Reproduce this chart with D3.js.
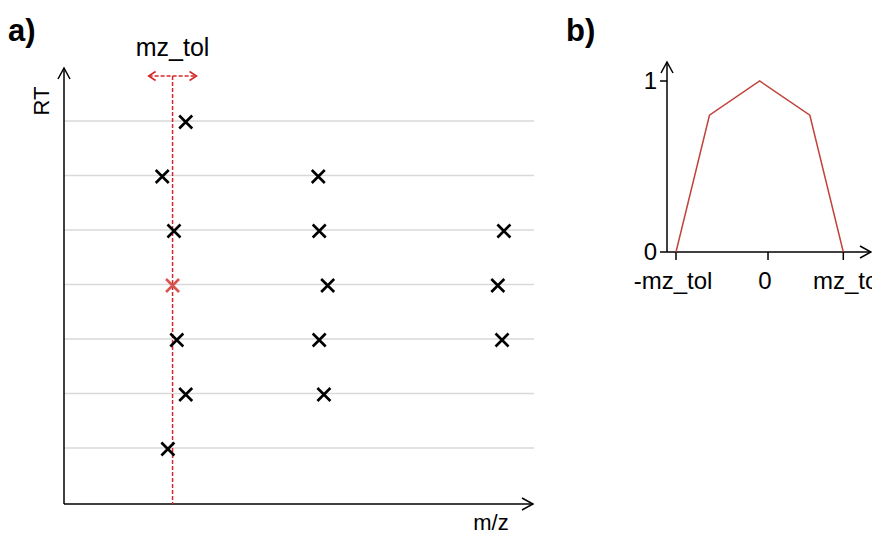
<!DOCTYPE html>
<html>
<head>
<meta charset="utf-8">
<script src="https://cdn.jsdelivr.net/npm/d3@7"></script>
<style>
  body { margin: 0; background: #fff; }
  text { font-family: "Liberation Sans", Arial, sans-serif; fill: #000; }
</style>
</head>
<body>
<script>
// panel a: peaks in the (m/z, RT) plane
var rtLevels = [1, 2, 3, 4, 5, 6, 7];
var peakMZ = [25.9, 20.9, 54.1, 23.4, 54.3, 93.6, 56.1, 92.3, 24.0, 54.3, 93.2, 25.9, 55.3, 22.1];
var peakRT = [7, 6, 6, 5, 5, 5, 4, 4, 3, 3, 3, 2, 2, 1];
// the reference peak (drawn in red)
var refMZ = 23.1;
var refRT = 4;
var mzTol = 5.1;

// panel b: weighting kernel
var kernelX = [-1, -0.6, 0, 0.6, 1];
var kernelY = [0, 0.8, 1, 0.8, 0];
var kernelTicks = [-1, 0.1, 1];
var kernelTickLabels = ["-mz_tol", "0", "mz_tol"];
var kernelYTicks = [0, 1];

var width = 872, height = 534;

var svg = d3.select("body").append("svg")
    .attr("width", width)
    .attr("height", height);

// simple open arrow head, tip at (x,y), pointing in direction dir
function arrowHead(g, x, y, dir, len, half, color) {
  var p;
  if (dir == "up") p = [[x - half, y + len], [x, y], [x + half, y + len]];
  if (dir == "right") p = [[x - len, y - half], [x, y], [x - len, y + half]];
  if (dir == "left") p = [[x + len, y - half], [x, y], [x + len, y + half]];
  g.append("path")
      .attr("d", d3.line()(p))
      .attr("fill", "none")
      .attr("stroke", color)
      .attr("stroke-width", 1.5);
}

// ---------- panel a ----------
var a = {left: 64, right: 534, bottom: 504, top: 68};

var x = d3.scaleLinear().domain([0, 100]).range([a.left, a.right]);
var y = d3.scaleLinear().domain([1, 7]).range([448, 121]);

var ga = svg.append("g");

// grid lines
ga.selectAll(".grid")
    .data(rtLevels)
    .enter().append("line")
    .attr("class", "grid")
    .attr("x1", a.left)
    .attr("x2", a.right)
    .attr("y1", function(d) { return y(d); })
    .attr("y2", function(d) { return y(d); })
    .attr("stroke", "#d9d9d9")
    .attr("stroke-width", 1.5);

// axes
ga.append("line")
    .attr("x1", a.left).attr("x2", a.left)
    .attr("y1", a.bottom).attr("y2", a.top)
    .attr("stroke", "#000").attr("stroke-width", 1.5);
arrowHead(ga, a.left, a.top, "up", 11, 6, "#000");
ga.append("line")
    .attr("x1", a.left).attr("x2", a.right - 1)
    .attr("y1", a.bottom).attr("y2", a.bottom)
    .attr("stroke", "#000").attr("stroke-width", 1.5);
arrowHead(ga, a.right - 1, a.bottom, "right", 11, 6, "#000");

ga.append("text")
    .attr("transform", "translate(49,101) rotate(-90)")
    .attr("text-anchor", "middle")
    .attr("font-size", "22px")
    .text("RT");

ga.append("text")
    .attr("x", 491)
    .attr("y", 530)
    .attr("text-anchor", "middle")
    .attr("font-size", "22px")
    .text("m/z");

// tolerance window: vertical dashed line + double arrow
var red = "#d62728";
ga.append("line")
    .attr("x1", x(refMZ)).attr("x2", x(refMZ))
    .attr("y1", 76).attr("y2", a.bottom)
    .attr("stroke", red).attr("stroke-width", 1.5)
    .attr("stroke-dasharray", "4,2");
ga.append("line")
    .attr("x1", x(refMZ - mzTol)).attr("x2", x(refMZ + mzTol))
    .attr("y1", 76).attr("y2", 76)
    .attr("stroke", red).attr("stroke-width", 1.5)
    .attr("stroke-dasharray", "4,2");
arrowHead(ga, x(refMZ - mzTol), 76, "left", 7, 4.5, red);
arrowHead(ga, x(refMZ + mzTol), 76, "right", 7, 4.5, red);
ga.append("text")
    .attr("x", x(refMZ))
    .attr("y", 56)
    .attr("text-anchor", "middle")
    .attr("font-size", "25px")
    .text("mz_tol");

// peaks
var cross = "M-6.5,-6.5L6.5,6.5M6.5,-6.5L-6.5,6.5";
ga.selectAll(".peak")
    .data(peakMZ)
    .enter().append("path")
    .attr("class", "peak")
    .attr("d", cross)
    .attr("transform", function(d, i) { return "translate(" + x(d) + "," + (y(peakRT[i]) + 1) + ")"; })
    .attr("stroke", "#000")
    .attr("stroke-width", 2.6)
    .attr("fill", "none");

ga.append("path")
    .attr("d", cross)
    .attr("transform", "translate(" + x(refMZ) + "," + (y(refRT) + 1) + ")")
    .attr("stroke", "#d9534f")
    .attr("stroke-width", 2.6)
    .attr("fill", "none");

ga.append("text")
    .attr("x", 8).attr("y", 41)
    .attr("font-size", "31px")
    .attr("font-weight", "bold")
    .text("a)");

// ---------- panel b ----------
var b = {left: 667, bottom: 252, top: 62, right: 871};
var kx = d3.scaleLinear().domain([-1, 1]).range([676, 843.3]);
var ky = d3.scaleLinear().domain([0, 1]).range([b.bottom, 81]);

var gb = svg.append("g");

gb.append("line")
    .attr("x1", b.left).attr("x2", b.left)
    .attr("y1", b.bottom).attr("y2", b.top)
    .attr("stroke", "#000").attr("stroke-width", 1.5);
arrowHead(gb, b.left, b.top, "up", 11, 6, "#000");
gb.append("line")
    .attr("x1", b.left).attr("x2", b.right)
    .attr("y1", b.bottom).attr("y2", b.bottom)
    .attr("stroke", "#000").attr("stroke-width", 1.5);
arrowHead(gb, b.right, b.bottom, "right", 11, 6, "#000");

// y ticks
gb.selectAll(".ytick")
    .data(kernelYTicks)
    .enter().append("line")
    .attr("class", "ytick")
    .attr("x1", b.left - 7).attr("x2", b.left)
    .attr("y1", function(d) { return ky(d); })
    .attr("y2", function(d) { return ky(d); })
    .attr("stroke", "#000").attr("stroke-width", 1.5);
gb.selectAll(".ylab")
    .data(kernelYTicks)
    .enter().append("text")
    .attr("class", "ylab")
    .attr("x", b.left - 10)
    .attr("y", function(d) { return ky(d); })
    .attr("dy", "0.35em")
    .attr("text-anchor", "end")
    .attr("font-size", "24px")
    .text(function(d) { return d; });

// x ticks
gb.selectAll(".xtick")
    .data(kernelTicks)
    .enter().append("line")
    .attr("class", "xtick")
    .attr("x1", function(d) { return kx(d); })
    .attr("x2", function(d) { return kx(d); })
    .attr("y1", b.bottom).attr("y2", b.bottom + 8)
    .attr("stroke", "#000").attr("stroke-width", 1.5);
gb.selectAll(".xlab")
    .data(kernelTicks)
    .enter().append("text")
    .attr("class", "xlab")
    .attr("x", function(d) { return kx(d); })
    .attr("dx", function(d, i) { return i == 2 ? 5 : -3; })
    .attr("y", 289)
    .attr("text-anchor", "middle")
    .attr("font-size", "24px")
    .text(function(d, i) { return kernelTickLabels[i]; });

// kernel curve
gb.append("path")
    .datum(kernelX)
    .attr("d", d3.line()
        .x(function(d) { return kx(d); })
        .y(function(d, i) { return ky(kernelY[i]); }))
    .attr("fill", "none")
    .attr("stroke", "#c0443c")
    .attr("stroke-width", 1.5);

gb.append("text")
    .attr("x", 566).attr("y", 41)
    .attr("font-size", "31px")
    .attr("font-weight", "bold")
    .text("b)");
</script>
</body>
</html>
